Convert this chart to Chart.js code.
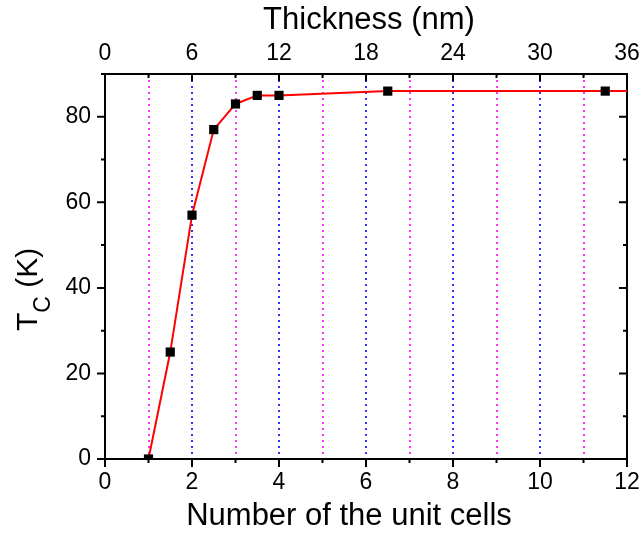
<!DOCTYPE html>
<html>
<head>
<meta charset="utf-8">
<script src="https://cdn.jsdelivr.net/npm/chart.js@4/dist/chart.umd.min.js"></script>
<style>
  html, body { margin: 0; padding: 0; background: #fff; }
  #wrap { width: 644px; height: 535px; }
</style>
</head>
<body>
<div id="wrap"><canvas id="tc-chart"></canvas></div>
<script>
const cells = [1, 1.5, 2, 2.5, 3, 3.5, 4, 6.5, 11.5]
const tc = [0, 25, 57, 77, 83, 85, 85, 86, 86]
// the red line runs on to the right frame after the last point
const lineEndCell = 12
const lineEndTc = 86

const cellLabels = [0, 2, 4, 6, 8, 10, 12]
const thicknessLabels = [0, 6, 12, 18, 24, 30, 36]
const tcLabels = [0, 20, 40, 60, 80]

const FONT = "'Liberation Sans', Arial, sans-serif"

const points = cells.map((c, i) => ({ x: c, y: tc[i] }))

// fixed box sizes so the frame lands where the original has it
const fixBox = (w, h) => s => {
  if (w) s.width = w
  if (h) s.height = h
  s.paddingLeft = s.paddingRight = s.paddingTop = s.paddingBottom = 0
}

// inward / outward tick marks, long ones on labelled values
const tickMarks = {
  id: 'tickMarks',
  afterDraw(chart) {
    const { ctx, chartArea: a, scales } = chart
    ctx.save()
    ctx.strokeStyle = '#000'
    ctx.lineWidth = 2
    ctx.beginPath()
    scales.x.ticks.forEach(t => {
      const px = scales.x.getPixelForValue(t.value)
      const len = cellLabels.includes(t.value) ? 8 : 4
      ctx.moveTo(px, a.bottom); ctx.lineTo(px, a.bottom + len)
    })
    scales.x2.ticks.forEach(t => {
      const px = scales.x2.getPixelForValue(t.value)
      const len = thicknessLabels.includes(t.value) ? 7 : 4
      ctx.moveTo(px, a.top); ctx.lineTo(px, a.top + len)
    })
    scales.y.ticks.forEach(t => {
      const py = scales.y.getPixelForValue(t.value)
      const len = t.value % 20 === 0 ? 8 : 4
      ctx.moveTo(a.left, py); ctx.lineTo(a.left - len, py)
    })
    scales.y2.ticks.forEach(t => {
      const py = scales.y2.getPixelForValue(t.value)
      const len = t.value % 20 === 0 ? 8 : 4
      ctx.moveTo(a.right, py); ctx.lineTo(a.right - len, py)
    })
    ctx.stroke()
    ctx.restore()
  }
}

// axis titles by hand: the y one needs a subscript,
// the bottom one sits left of the plot centre
const axisTitles = {
  id: 'axisTitles',
  afterDraw(chart) {
    const ctx = chart.ctx
    ctx.save()
    ctx.fillStyle = '#000'
    ctx.textBaseline = 'alphabetic'
    ctx.textAlign = 'center'
    ctx.font = `31px ${FONT}`
    ctx.fillText('Thickness (nm)', 369, 29)
    ctx.fillText('Number of the unit cells', 349, 525)

    ctx.textAlign = 'left'
    ctx.translate(37, 331)
    ctx.rotate(-Math.PI / 2)
    ctx.font = `30px ${FONT}`
    ctx.fillText('T', 0, 0)
    let w = ctx.measureText('T').width
    ctx.font = `23px ${FONT}`
    ctx.fillText('C', w, 13)
    w += ctx.measureText('C').width
    ctx.font = `30px ${FONT}`
    ctx.fillText(' (K)', w, 0)
    ctx.restore()
  }
}

new Chart(document.getElementById('tc-chart'), {
  type: 'scatter',
  data: {
    datasets: [{
      data: points,
      showLine: false,
      pointStyle: 'rect',
      pointRadius: 6.5,
      pointHoverRadius: 6.5,
      pointBackgroundColor: '#000',
      pointBorderWidth: 0,
      clip: 0
    }, {
      data: points.concat([{ x: lineEndCell, y: lineEndTc }]),
      showLine: true,
      borderColor: '#ff0000',
      borderWidth: 2,
      pointRadius: 0,
      tension: 0,
      clip: 0
    }]
  },
  options: {
    responsive: true,
    maintainAspectRatio: false,
    animation: false,
    layout: { padding: 0 },
    plugins: { legend: { display: false }, tooltip: { enabled: false } },
    scales: {
      x: {
        type: 'linear', position: 'bottom', min: 0, max: 12,
        afterFit: fixBox(0, 76),
        ticks: {
          stepSize: 1, autoSkip: false, maxRotation: 0, padding: 10,
          color: '#000', font: { family: FONT, size: 23 },
          callback: v => cellLabels.includes(v) ? v : ''
        },
        grid: {
          drawTicks: false,
          lineWidth: 2,
          color: c => {
            const v = c.tick ? c.tick.value : 0
            if (v <= 0 || v >= 12) return 'rgba(0,0,0,0)'
            return v % 2 ? '#ff33ff' : '#3333ff'
          }
        },
        border: { display: true, color: '#000', width: 2, dash: [2, 4] }
      },
      x2: {
        type: 'linear', position: 'top', min: 0, max: 36,
        afterFit: fixBox(0, 74),
        ticks: {
          stepSize: 3, autoSkip: false, maxRotation: 0, padding: 7,
          color: '#000', font: { family: FONT, size: 23 },
          callback: v => thicknessLabels.includes(v) ? v : ''
        },
        grid: { drawOnChartArea: false, drawTicks: false },
        border: { display: true, color: '#000', width: 2 }
      },
      y: {
        type: 'linear', position: 'left', min: 0, max: 90,
        afterFit: fixBox(105, 0),
        ticks: {
          stepSize: 10, autoSkip: false, padding: 14,
          color: '#000', font: { family: FONT, size: 23 },
          callback: v => tcLabels.includes(v) ? v : ''
        },
        grid: { drawOnChartArea: false, drawTicks: false },
        border: { display: true, color: '#000', width: 2 }
      },
      y2: {
        type: 'linear', position: 'right', min: 0, max: 90,
        afterFit: fixBox(17, 0),
        ticks: { stepSize: 10, display: false },
        grid: { drawOnChartArea: false, drawTicks: false },
        border: { display: true, color: '#000', width: 2 }
      }
    }
  },
  plugins: [tickMarks, axisTitles]
})
</script>
</body>
</html>
